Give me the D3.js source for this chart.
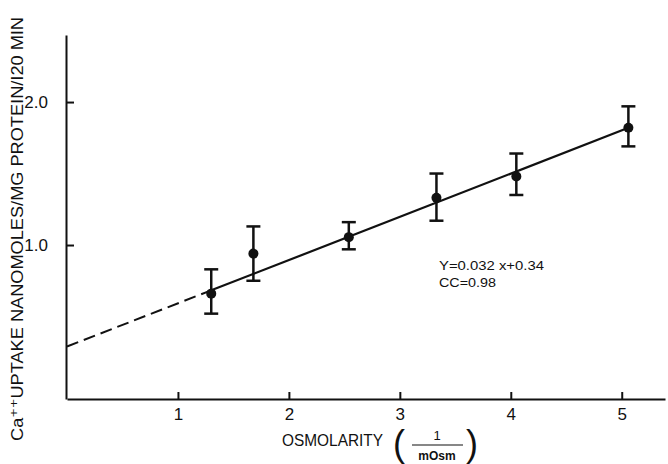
<!DOCTYPE html>
<html lang="en">
<head>
    <meta charset="UTF-8">
    <title>Ca uptake vs osmolarity</title>
    <script src="https://d3js.org/d3.v7.min.js"></script>
    <style>
        body { margin: 0; background: #fff; }
        text { font-family: "Liberation Sans", "DejaVu Sans", sans-serif; fill: #111; }
    </style>
</head>
<body>
    <script>

    // data
    const osm = [1.3, 1.68, 2.54, 3.33, 4.05, 5.06];
    const uptake = [0.66, 0.94, 1.055, 1.33, 1.48, 1.82];
    const errHigh = [0.83, 1.13, 1.16, 1.50, 1.64, 1.97];
    const errLow = [0.52, 0.75, 0.97, 1.17, 1.35, 1.69];

    // regression line: dashed extrapolation, then the solid fit
    const dashX = [0, 1.3];
    const dashY = [0.29, 0.683];
    const solidX = [1.3, 5.06];
    const solidY = [0.683, 1.82];

    const xTicks = [1, 2, 3, 4, 5];
    const yTicks = [1.0, 2.0];

    const w = 668;
    const h = 464;

    const xScale = d3.scaleLinear()
                     .domain([0, 5.39])
                     .range([67, 665]);

    const yScale = d3.scaleLinear()
                     .domain([-0.077, 2.469])
                     .range([399, 35]);

    const svg = d3.select("body")
                  .append("svg")
                  .attr("width", w)
                  .attr("height", h);

    const xAxis = d3.axisBottom(xScale)
                    .tickValues(xTicks)
                    .tickFormat(d3.format("d"))
                    .tickSizeInner(-7)
                    .tickSizeOuter(0)
                    .tickPadding(9);

    const yAxis = d3.axisLeft(yScale)
                    .tickValues(yTicks)
                    .tickFormat(d3.format(".1f"))
                    .tickSizeInner(-8)
                    .tickSizeOuter(0)
                    .tickPadding(18);

    const gx = svg.append("g")
       .attr("transform", "translate(0," + 399 + ")")
       .call(xAxis);

    const gy = svg.append("g")
       .attr("transform", "translate(" + 66 + ",0)")
       .call(yAxis);

    [gx, gy].forEach(g => {
        g.select(".domain").attr("stroke", "#111").attr("stroke-width", 2);
        g.selectAll(".tick line").attr("stroke", "#111").attr("stroke-width", 2);
        g.selectAll(".tick text")
         .attr("font-size", 17)
         .attr("font-family", "Liberation Sans, DejaVu Sans, sans-serif")
         .attr("fill", "#111");
    });

    // fit line
    const line = d3.line()
                   .x(d => xScale(d[0]))
                   .y(d => yScale(d[1]));

    svg.append("path")
       .datum(d3.zip(dashX, dashY))
       .attr("d", line)
       .attr("fill", "none")
       .attr("stroke", "#111")
       .attr("stroke-width", 2)
       .attr("stroke-dasharray", "12,6");

    svg.append("path")
       .datum(d3.zip(solidX, solidY))
       .attr("d", line)
       .attr("fill", "none")
       .attr("stroke", "#111")
       .attr("stroke-width", 2.2);

    // error bars
    const pts = osm.map((x, i) => ({ x: x, y: uptake[i], hi: errHigh[i], lo: errLow[i] }));

    const eb = svg.append("g")
                  .attr("stroke", "#111")
                  .attr("stroke-width", 2.5);

    eb.selectAll(".stem")
      .data(pts)
      .enter()
      .append("line")
      .attr("x1", d => xScale(d.x))
      .attr("x2", d => xScale(d.x))
      .attr("y1", d => yScale(d.hi))
      .attr("y2", d => yScale(d.lo));

    eb.selectAll(".capHi")
      .data(pts)
      .enter()
      .append("line")
      .attr("x1", d => xScale(d.x) - 7)
      .attr("x2", d => xScale(d.x) + 7)
      .attr("y1", d => yScale(d.hi))
      .attr("y2", d => yScale(d.hi));

    eb.selectAll(".capLo")
      .data(pts)
      .enter()
      .append("line")
      .attr("x1", d => xScale(d.x) - 7)
      .attr("x2", d => xScale(d.x) + 7)
      .attr("y1", d => yScale(d.lo))
      .attr("y2", d => yScale(d.lo));

    svg.selectAll("circle")
       .data(pts)
       .enter()
       .append("circle")
       .attr("cx", d => xScale(d.x))
       .attr("cy", d => yScale(d.y))
       .attr("r", 5)
       .attr("fill", "#111");

    // equation
    svg.append("text")
       .attr("x", 439)
       .attr("y", 270)
       .attr("font-size", 13)
       .attr("textLength", 105)
       .attr("lengthAdjust", "spacingAndGlyphs")
       .text("Y=0.032 x+0.34");

    svg.append("text")
       .attr("x", 439)
       .attr("y", 287)
       .attr("font-size", 13)
       .attr("textLength", 57)
       .attr("lengthAdjust", "spacingAndGlyphs")
       .text("CC=0.98");

    // x label
    svg.append("text")
       .attr("x", 282)
       .attr("y", 446)
       .attr("font-size", 17)
       .attr("textLength", 101)
       .attr("lengthAdjust", "spacingAndGlyphs")
       .text("OSMOLARITY");

    const frac = svg.append("g");
    frac.append("text")
        .attr("x", 393)
        .attr("y", 456)
        .attr("font-size", 36)
        .attr("font-weight", 300)
        .text("(");
    frac.append("text")
        .attr("x", 437)
        .attr("y", 440)
        .attr("text-anchor", "middle")
        .attr("font-size", 13)
        .text("1");
    frac.append("line")
        .attr("x1", 412)
        .attr("x2", 463)
        .attr("y1", 445)
        .attr("y2", 445)
        .attr("stroke", "#111")
        .attr("stroke-width", 1.2);
    frac.append("text")
        .attr("x", 437)
        .attr("y", 460)
        .attr("text-anchor", "middle")
        .attr("font-size", 12)
        .attr("font-weight", "bold")
        .text("mOsm");
    frac.append("text")
        .attr("x", 466)
        .attr("y", 456)
        .attr("font-size", 36)
        .attr("font-weight", 300)
        .text(")");

    // y label
    svg.append("text")
       .attr("transform", "translate(23," + 441 + ") rotate(-90)")
       .attr("font-size", 17)
       .attr("textLength", 424)
       .attr("lengthAdjust", "spacingAndGlyphs")
       .text("Ca⁺⁺UPTAKE NANOMOLES/MG PROTEIN/I20 MIN");

    </script>
</body>
</html>
